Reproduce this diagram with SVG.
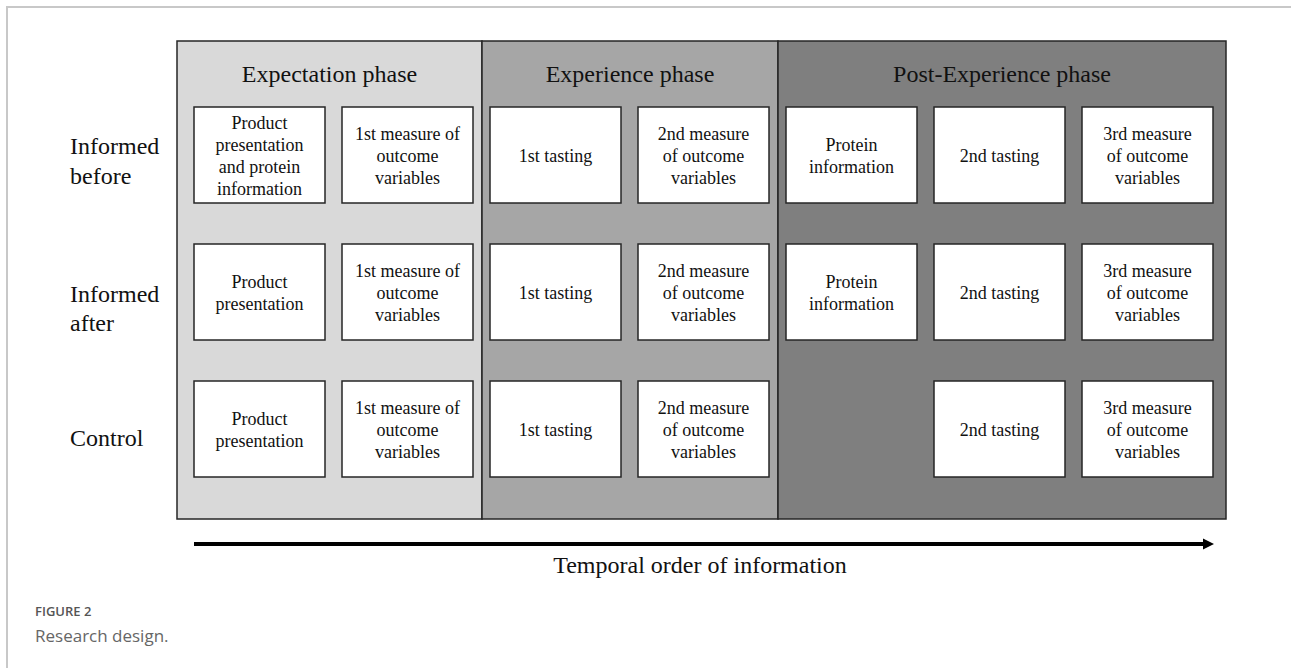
<svg xmlns="http://www.w3.org/2000/svg" width="1291" height="668" viewBox="0 0 1291 668">
<defs>
<style>
.frame{stroke:#c8c8c8;stroke-width:2;fill:none}
.phase{stroke:#262626;stroke-width:1.5}
.box{fill:#ffffff;stroke:#262626;stroke-width:1.5}
.t{font-family:"Liberation Serif","Times New Roman",serif;fill:#111}
.bt{font-size:18px;text-anchor:middle}
.big{font-size:24px}
.cap1{font-family:"Open Sans","Noto Sans",sans-serif;font-size:13px;font-weight:600;fill:#555}
.cap2{font-family:"Open Sans","Noto Sans",sans-serif;font-size:17px;fill:#666}
</style>
</defs>
<rect width="1291" height="668" fill="#fff"/>
<path class="frame" d="M7,668 L7,7 L1291,7"/>

<g id="phases">
<rect class="phase" x="177" y="41" width="305" height="478" fill="#d9d9d9"/>
<rect class="phase" x="482" y="41" width="296" height="478" fill="#a6a6a6"/>
<rect class="phase" x="778" y="41" width="448" height="478" fill="#7f7f7f"/>
<text class="t big" x="329.5" y="82" text-anchor="middle">Expectation phase</text>
<text class="t big" x="630" y="82" text-anchor="middle">Experience phase</text>
<text class="t big" x="1002" y="82" text-anchor="middle">Post-Experience phase</text>
</g>

<g id="row-labels">
<text class="t big" x="70" y="154">Informed</text>
<text class="t big" x="70" y="184">before</text>
<text class="t big" x="70" y="302">Informed</text>
<text class="t big" x="70" y="331">after</text>
<text class="t big" x="70" y="446">Control</text>
</g>

<!-- Row 1: Informed before -->
<g id="r1c1"><rect class="box" x="194" y="107" width="131" height="96"/>
<text class="t bt" x="259.5" y="129">Product</text><text class="t bt" x="259.5" y="151">presentation</text><text class="t bt" x="259.5" y="173">and protein</text><text class="t bt" x="259.5" y="195">information</text></g>
<g id="r1c2"><rect class="box" x="342" y="107" width="131" height="96"/>
<text class="t bt" x="407.5" y="140">1st measure  of</text><text class="t bt" x="407.5" y="162">outcome</text><text class="t bt" x="407.5" y="184">variables</text></g>
<g id="r1c3"><rect class="box" x="490" y="107" width="131" height="96"/>
<text class="t bt" x="555.5" y="162">1st tasting</text></g>
<g id="r1c4"><rect class="box" x="638" y="107" width="131" height="96"/>
<text class="t bt" x="703.5" y="140">2nd measure</text><text class="t bt" x="703.5" y="162">of outcome</text><text class="t bt" x="703.5" y="184">variables</text></g>
<g id="r1c5"><rect class="box" x="786" y="107" width="131" height="96"/>
<text class="t bt" x="851.5" y="151">Protein</text><text class="t bt" x="851.5" y="173">information</text></g>
<g id="r1c6"><rect class="box" x="934" y="107" width="131" height="96"/>
<text class="t bt" x="999.5" y="162">2nd tasting</text></g>
<g id="r1c7"><rect class="box" x="1082" y="107" width="131" height="96"/>
<text class="t bt" x="1147.5" y="140">3rd measure</text><text class="t bt" x="1147.5" y="162">of outcome</text><text class="t bt" x="1147.5" y="184">variables</text></g>

<!-- Row 2: Informed after -->
<g id="r2c1"><rect class="box" x="194" y="244" width="131" height="96"/>
<text class="t bt" x="259.5" y="288">Product</text><text class="t bt" x="259.5" y="310">presentation</text></g>
<g id="r2c2"><rect class="box" x="342" y="244" width="131" height="96"/>
<text class="t bt" x="407.5" y="277">1st measure  of</text><text class="t bt" x="407.5" y="299">outcome</text><text class="t bt" x="407.5" y="321">variables</text></g>
<g id="r2c3"><rect class="box" x="490" y="244" width="131" height="96"/>
<text class="t bt" x="555.5" y="299">1st tasting</text></g>
<g id="r2c4"><rect class="box" x="638" y="244" width="131" height="96"/>
<text class="t bt" x="703.5" y="277">2nd measure</text><text class="t bt" x="703.5" y="299">of outcome</text><text class="t bt" x="703.5" y="321">variables</text></g>
<g id="r2c5"><rect class="box" x="786" y="244" width="131" height="96"/>
<text class="t bt" x="851.5" y="288">Protein</text><text class="t bt" x="851.5" y="310">information</text></g>
<g id="r2c6"><rect class="box" x="934" y="244" width="131" height="96"/>
<text class="t bt" x="999.5" y="299">2nd tasting</text></g>
<g id="r2c7"><rect class="box" x="1082" y="244" width="131" height="96"/>
<text class="t bt" x="1147.5" y="277">3rd measure</text><text class="t bt" x="1147.5" y="299">of outcome</text><text class="t bt" x="1147.5" y="321">variables</text></g>

<!-- Row 3: Control -->
<g id="r3c1"><rect class="box" x="194" y="381" width="131" height="96"/>
<text class="t bt" x="259.5" y="425">Product</text><text class="t bt" x="259.5" y="447">presentation</text></g>
<g id="r3c2"><rect class="box" x="342" y="381" width="131" height="96"/>
<text class="t bt" x="407.5" y="414">1st measure  of</text><text class="t bt" x="407.5" y="436">outcome</text><text class="t bt" x="407.5" y="458">variables</text></g>
<g id="r3c3"><rect class="box" x="490" y="381" width="131" height="96"/>
<text class="t bt" x="555.5" y="436">1st tasting</text></g>
<g id="r3c4"><rect class="box" x="638" y="381" width="131" height="96"/>
<text class="t bt" x="703.5" y="414">2nd measure</text><text class="t bt" x="703.5" y="436">of outcome</text><text class="t bt" x="703.5" y="458">variables</text></g>
<g id="r3c6"><rect class="box" x="934" y="381" width="131" height="96"/>
<text class="t bt" x="999.5" y="436">2nd tasting</text></g>
<g id="r3c7"><rect class="box" x="1082" y="381" width="131" height="96"/>
<text class="t bt" x="1147.5" y="414">3rd measure</text><text class="t bt" x="1147.5" y="436">of outcome</text><text class="t bt" x="1147.5" y="458">variables</text></g>

<g id="connectors">
<line x1="194" y1="544" x2="1205" y2="544" stroke="#000" stroke-width="4"/>
<polygon points="1203,538.5 1214,544 1203,549.5" fill="#000"/>
</g>
<g id="axis-label">
<text class="t big" x="700" y="573" text-anchor="middle">Temporal order of information</text>
</g>

<g id="caption">
<text class="cap1" x="35" y="616">FIGURE 2</text>
<text class="cap2" x="35" y="642">Research design.</text>
</g>
</svg>
